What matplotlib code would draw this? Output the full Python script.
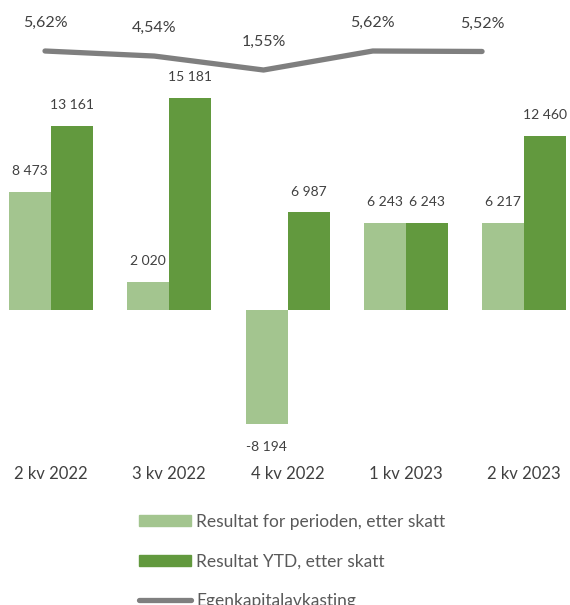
import matplotlib
matplotlib.use("Agg")
import matplotlib.pyplot as plt
from matplotlib.patches import Patch
from matplotlib.lines import Line2D

# data
kvartaler = ["2 kv 2022", "3 kv 2022", "4 kv 2022", "1 kv 2023", "2 kv 2023"]
resultat_periode = [8473, 2020, -8194, 6243, 6217]
resultat_ytd = [13161, 15181, 6987, 6243, 12460]
egenkapitalavkastning = [5.62, 4.54, 1.55, 5.62, 5.52]

lys_gronn = "#A3C58F"
mork_gronn = "#62993E"
gra = "#7F7F7F"
tekst = "#404040"

plt.rcParams['font.family'] = ['Lato', 'DejaVu Sans']

def fmt(v):
    return f"{v:,}".replace(",", " ")

fig = plt.figure(figsize=(5.7, 6.05), dpi=100)

# bars
ax = fig.add_axes([0, 1 - 440 / 605, 1, 350 / 605])
x = list(range(len(kvartaler)))
w = 0.355
b1 = ax.bar([i - w / 2 for i in x], resultat_periode, w, color=lys_gronn)
b2 = ax.bar([i + w / 2 for i in x], resultat_ytd, w, color=mork_gronn)
ax.set_xlim(-0.431, 4.387)
ax.set_ylim(-9306, 15748)
for bars in (b1, b2):
    for r in bars:
        v = r.get_height()
        ax.annotate(fmt(int(v)), (r.get_x() + r.get_width() / 2, v),
                    xytext=(0, 15 if v >= 0 else -16), textcoords="offset points",
                    ha="center", va="center", fontsize=10, color=tekst)
ax.set_xticks(x)
ax.set_xticklabels(kvartaler, fontsize=12, color=tekst)
ax.tick_params(axis="x", length=0, pad=19)
ax.set_yticks([])
for s in ax.spines.values():
    s.set_visible(False)
ax.patch.set_visible(False)

# line
ax2 = fig.add_axes([0, 1 - 110 / 605, 1, 110 / 605])
ax2.plot(x, egenkapitalavkastning, color=gra, lw=3.8, solid_capstyle="round")
ax2.set_xlim(-0.412, 4.805)
ax2.set_ylim(-7.01, 16.54)
for i, v in enumerate(egenkapitalavkastning):
    ax2.annotate(f"{v:.2f}%".replace(".", ","), (i, v), xytext=(0, 20),
                 textcoords="offset points", ha="center", va="center",
                 fontsize=11.5, color=tekst)
ax2.axis("off")

handles = [Patch(color=lys_gronn), Patch(color=mork_gronn),
           Line2D([0], [0], color=gra, lw=3.8, solid_capstyle="round")]
labels = ["Resultat for perioden, etter skatt", "Resultat YTD, etter skatt",
          "Egenkapitalavkasting"]
leg = fig.legend(handles, labels, loc="upper left", bbox_to_anchor=(139 / 570, 1 - 514 / 605),
                 frameon=False, fontsize=12.5, handlelength=3.0, handleheight=0.6,
                 handletextpad=0.3, labelspacing=1.35, borderpad=0, borderaxespad=0)
for t in leg.get_texts():
    t.set_color("#595959")

fig.savefig("out.png", dpi=100)
